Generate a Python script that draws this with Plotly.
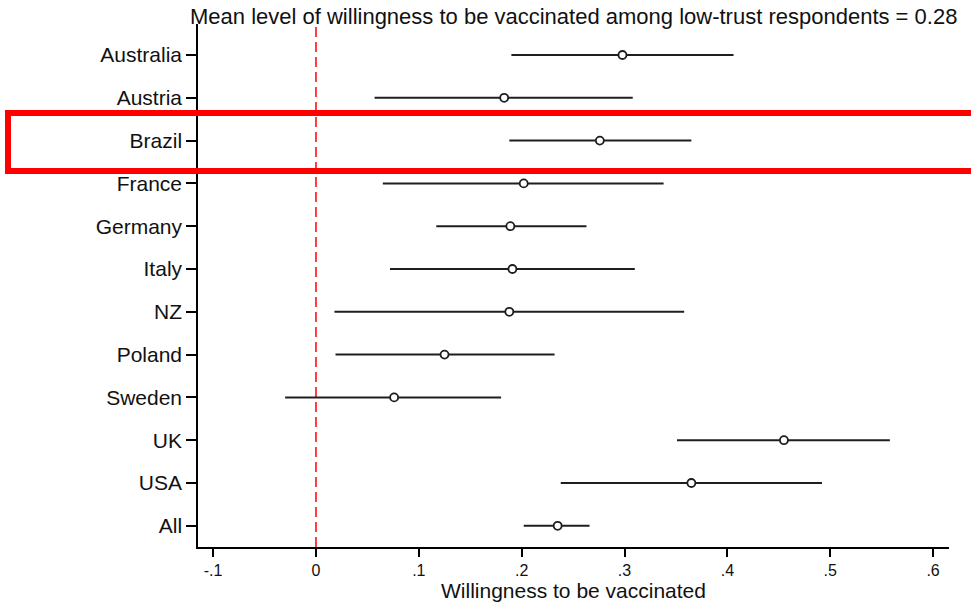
import plotly.graph_objects as go

# Country-level estimates of willingness to be vaccinated (low-trust respondents)
countries = ["Australia", "Austria", "Brazil", "France", "Germany", "Italy",
             "NZ", "Poland", "Sweden", "UK", "USA", "All"]
estimate = [0.298, 0.183, 0.276, 0.202, 0.189, 0.191, 0.188, 0.125, 0.076, 0.455, 0.365, 0.235]
ci_low = [0.190, 0.057, 0.188, 0.065, 0.117, 0.072, 0.018, 0.019, -0.030, 0.351, 0.238, 0.202]
ci_high = [0.406, 0.308, 0.365, 0.338, 0.263, 0.310, 0.358, 0.232, 0.180, 0.558, 0.492, 0.266]

x_ticks = [-0.1, 0, 0.1, 0.2, 0.3, 0.4, 0.5, 0.6]
x_tick_labels = ["-.1", "0", ".1", ".2", ".3", ".4", ".5", ".6"]

title_text = "Mean level of willingness to be vaccinated among low-trust respondents = 0.28"
x_title = "Willingness to be vaccinated"
highlight = "Brazil"

FONT = "Liberation Sans, Arial, Helvetica, sans-serif"
INK = "#1e1e1e"

err_plus = [h - e for h, e in zip(ci_high, estimate)]
err_minus = [e - l for e, l in zip(estimate, ci_low)]

fig = go.Figure()
fig.add_trace(go.Scatter(
    x=estimate, y=countries, mode="markers",
    marker=dict(symbol="circle", size=8, color="white",
                line=dict(color=INK, width=1.8)),
    error_x=dict(type="data", symmetric=False, array=err_plus,
                 arrayminus=err_minus, width=0, thickness=2, color=INK),
    showlegend=False, hoverinfo="x+y",
))

# zero reference line
fig.add_shape(type="line", xref="x", yref="paper", x0=0, x1=0, y0=0, y1=1,
              line=dict(color="#ff0000", width=1.5, dash="10px,5px"), layer="below")

# highlight box around one row
hi = countries.index(highlight)
fig.add_shape(type="rect", xref="paper", yref="y",
              x0=-0.253, x1=1.08, y0=hi - 0.645, y1=hi + 0.71,
              line=dict(color="#ff0000", width=6), fillcolor="rgba(0,0,0,0)")

fig.add_annotation(text=title_text, xref="paper", yref="paper", x=0.5, y=1.0135,
                   xanchor="center", yanchor="middle", showarrow=False,
                   font=dict(family=FONT, size=22, color="#111111"))
fig.add_annotation(text=x_title, xref="paper", yref="paper", x=0.5, y=-0.083,
                   xanchor="center", yanchor="middle", showarrow=False,
                   font=dict(family=FONT, size=21, color="#111111"))

fig.update_layout(
    width=971, height=604,
    margin=dict(l=198, r=22, t=24, b=57),
    paper_bgcolor="white", plot_bgcolor="white",
    font=dict(family=FONT, color="#111111"),
    xaxis=dict(range=[-0.1147, 0.6155], tickvals=x_ticks, ticktext=x_tick_labels,
               showgrid=False, zeroline=False, showline=True, linecolor="black",
               linewidth=1.5, ticks="outside", ticklen=8, tickwidth=1.5,
               tickcolor="black", tickfont=dict(size=16)),
    yaxis=dict(type="category", categoryorder="array", categoryarray=countries,
               range=[11.495, -0.724], showgrid=False, zeroline=False,
               showline=True, linecolor="black", linewidth=1.5, ticks="outside",
               ticklen=10, tickwidth=1.5, tickcolor="black",
               tickfont=dict(size=21)),
)

fig.write_html("out.html")
